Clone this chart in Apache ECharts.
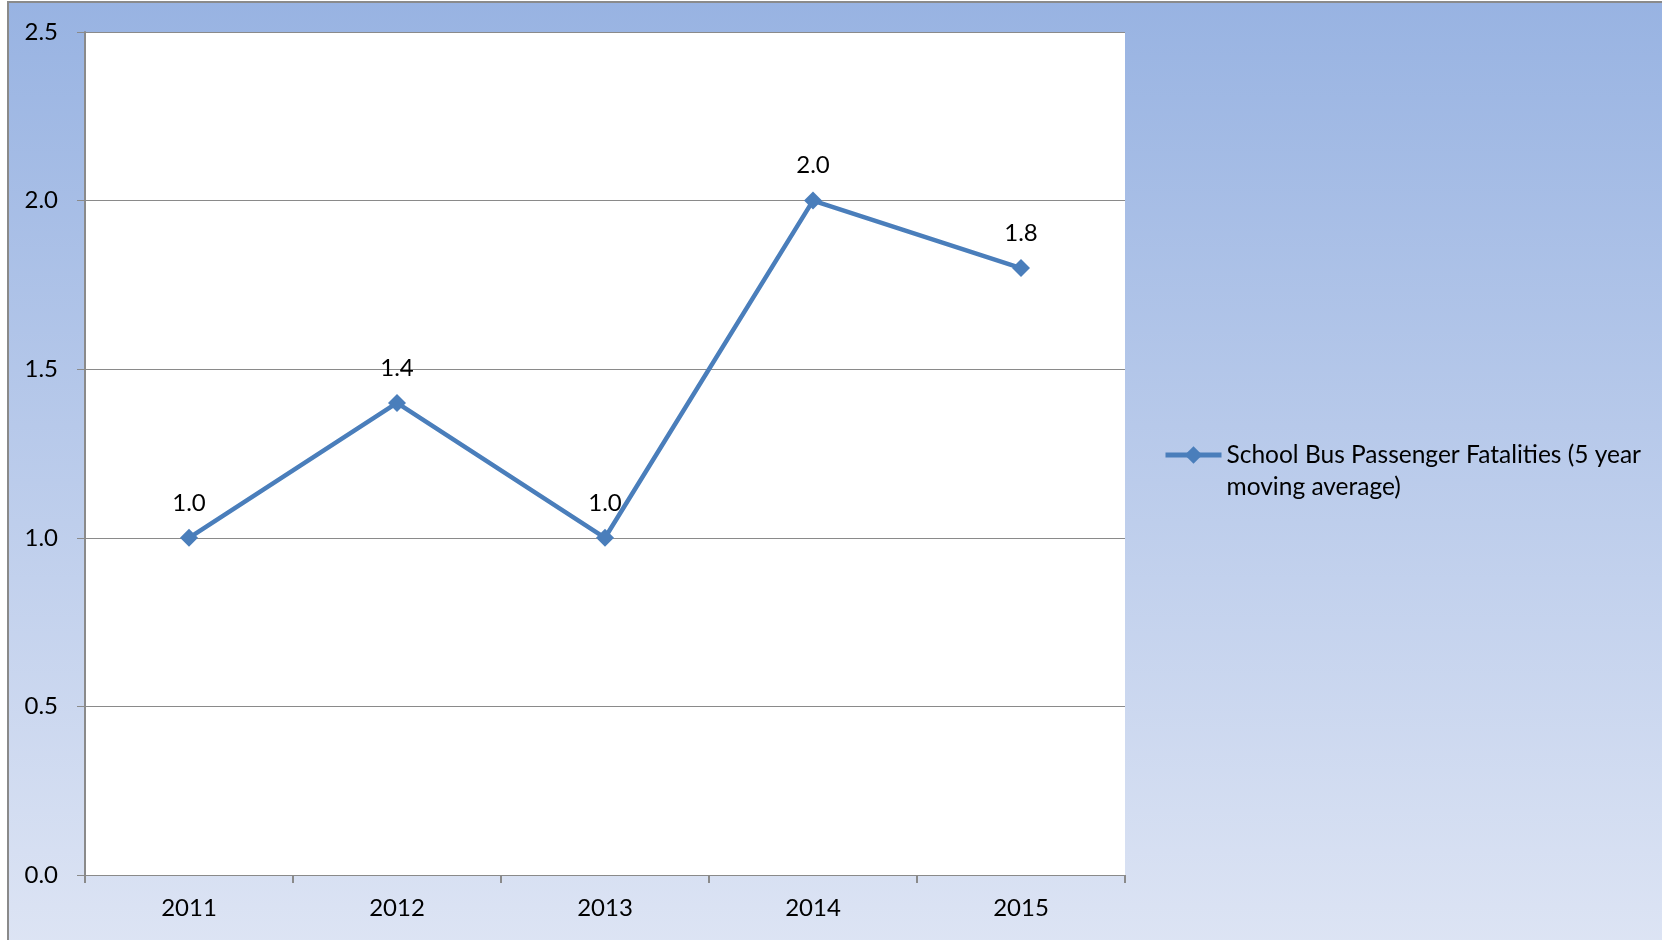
<!DOCTYPE html>
<html>
<head>
<meta charset="utf-8">
<script src="https://cdn.jsdelivr.net/npm/echarts@6/dist/echarts.min.js"></script>
<style>
  html, body { margin: 0; padding: 0; background: #fff; }
  #main { width: 1662px; height: 940px; }
</style>
</head>
<body>
<div id="main"></div>
<script>
let years = ['2011', '2012', '2013', '2014', '2015']
let fatalities = [1.0, 1.4, 1.0, 2.0, 1.8]
let seriesName = 'School Bus Passenger Fatalities (5 year moving average)'
let yTicks = [0, 0.5, 1.0, 1.5, 2.0, 2.5]

var myChart = echarts.init(document.getElementById('main'))
let font = 'Lato'

let option = {
  animation: false,
  textStyle: { fontFamily: font },
  graphic: [
    {
      type: 'rect',
      z: -10,
      silent: true,
      shape: { x: 8, y: 2, width: 1700, height: 1000 },
      style: {
        fill: new echarts.graphic.LinearGradient(0, 0, 0, 1, [
          { offset: 0, color: '#98B3E2' },
          { offset: 1, color: '#E1E7F5' },
        ]),
        stroke: '#8a8a8a',
        lineWidth: 2,
      },
    },
    {
      // white plot area
      type: 'rect',
      z: -9,
      silent: true,
      shape: { x: 85, y: 32, width: 1040, height: 843 },
      style: { fill: '#fff' },
    },
  ],
  grid: {
    left: 85,
    top: 32,
    width: 1040,
    height: 843,
  },
  legend: {
    left: 1163,
    top: 407,
    padding: 0,
    itemWidth: 56,
    itemHeight: 22,
    itemGap: 4,
    data: [seriesName],
    lineStyle: { width: 5 },
    // leading blank line keeps the icon level with the first text line
    formatter: function () {
      return '\nSchool Bus Passenger Fatalities (5 year\nmoving average)'
    },
    textStyle: {
      fontFamily: font,
      fontSize: 24.5,
      color: '#000',
      lineHeight: 32,
    },
  },
  xAxis: {
    type: 'category',
    boundaryGap: true,
    data: years,
    axisLine: { show: true, lineStyle: { color: '#8a8a8a', width: 1 } },
    axisTick: { show: true, length: 8, lineStyle: { color: '#8a8a8a', width: 2 } },
    axisLabel: { color: '#000', fontSize: 24, fontFamily: font, margin: 21 },
  },
  yAxis: {
    type: 'value',
    min: yTicks[0],
    max: yTicks[yTicks.length - 1],
    interval: yTicks[1] - yTicks[0],
    axisLine: { show: true, lineStyle: { color: '#8a8a8a', width: 2 } },
    axisTick: { show: true, length: 8, lineStyle: { color: '#8a8a8a', width: 1 } },
    axisLabel: {
      color: '#000',
      fontSize: 24,
      fontFamily: font,
      margin: 27,
      formatter: function (v) {
        return v.toFixed(1)
      },
    },
    splitLine: { show: true, lineStyle: { color: '#8a8a8a', width: 1 } },
  },
  series: [
    {
      name: seriesName,
      type: 'line',
      data: fatalities,
      symbol: 'diamond',
      symbolSize: 18,
      color: '#4A7EBB',
      lineStyle: { color: '#4A7EBB', width: 4.5 },
      itemStyle: { color: '#4A7EBB' },
      label: {
        show: true,
        position: 'top',
        distance: 14,
        color: '#000',
        fontSize: 24,
        fontFamily: font,
        formatter: function (p) {
          return p.value.toFixed(1)
        },
      },
    },
  ],
}

myChart.setOption(option)
</script>
</body>
</html>
